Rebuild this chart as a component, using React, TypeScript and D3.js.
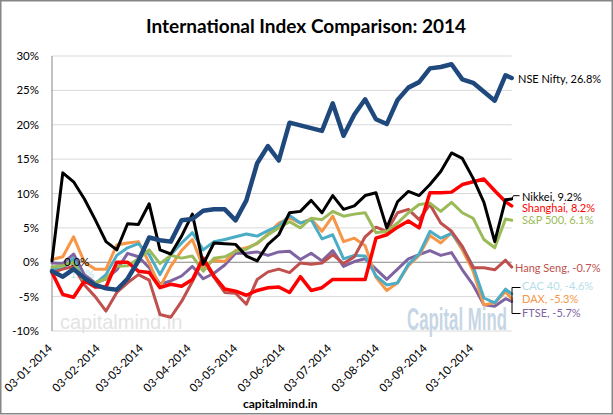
import * as d3 from "d3";
import { useLayoutEffect, useRef, useState } from "react";

// weekly closes, % change since 03-01-2014
const dates = [
  "2014-01-03", "2014-01-10", "2014-01-17", "2014-01-24", "2014-01-31",
  "2014-02-07", "2014-02-14", "2014-02-21", "2014-02-28", "2014-03-07",
  "2014-03-14", "2014-03-21", "2014-03-28", "2014-04-04", "2014-04-11",
  "2014-04-18", "2014-04-25", "2014-05-02", "2014-05-09", "2014-05-16",
  "2014-05-23", "2014-05-30", "2014-06-06", "2014-06-13", "2014-06-20",
  "2014-06-27", "2014-07-04", "2014-07-11", "2014-07-18", "2014-07-25",
  "2014-08-01", "2014-08-08", "2014-08-15", "2014-08-22", "2014-08-29",
  "2014-09-05", "2014-09-12", "2014-09-19", "2014-09-26", "2014-10-03",
  "2014-10-10", "2014-10-17", "2014-10-24", "2014-10-28",
];

const tickDates = [
  "2014-01-03", "2014-02-03", "2014-03-03", "2014-04-03", "2014-05-03",
  "2014-06-03", "2014-07-03", "2014-08-03", "2014-09-03", "2014-10-03",
];
const tickLabels = [
  "03-01-2014", "03-02-2014", "03-03-2014", "03-04-2014", "03-05-2014",
  "03-06-2014", "03-07-2014", "03-08-2014", "03-09-2014", "03-10-2014",
];
const yTicks = [30, 25, 20, 15, 10, 5, 0, -5, -10];

const nifty = [
  -1.3, -2.1, -1.0, -2.3, -3.3, -3.8, -4.0, -2.4, 0.2, 3.6,
  3.2, 3.0, 6.1, 6.3, 7.5, 7.7, 7.7, 6.1, 9.0, 14.4,
  16.9, 14.8, 20.3, 19.9, 19.5, 19.1, 23.1, 18.4, 21.5, 23.7,
  20.8, 20.1, 23.6, 25.4, 26.2, 28.2, 28.4, 28.8, 26.6, 26.1,
  24.8, 23.5, 27.2, 26.8,
];
const nikkei = [
  0.2, 13.0, 11.7, 9.2, 6.2, 3.0, 1.8, 5.6, 5.5, 8.5,
  1.8, 1.2, 3.8, 7.0, -0.3, 2.8, 2.7, 2.6, 0.9, 0.2,
  2.6, 4.0, 7.2, 7.4, 9.0, 7.2, 9.7, 7.7, 8.2, 9.7,
  10.1, 5.0, 8.8, 10.3, 9.7, 11.3, 13.2, 15.9, 15.1, 12.2,
  8.7, 3.0, 9.1, 9.2,
];
const shanghai = [
  -1.5, -4.7, -5.1, -2.7, -3.6, -3.6, 0.0, 0.0, -1.3, -1.5,
  -3.7, -3.2, -3.5, -2.5, 0.6, -2.0, -3.9, -4.2, -4.8, -4.1,
  -3.7, -3.6, -4.4, -2.1, -4.1, -3.7, -2.5, -2.5, -2.5, -2.5,
  3.5, 4.0, 5.1, 6.0, 5.0, 10.1, 10.1, 10.2, 11.3, 11.7,
  12.1, 10.4, 8.8, 8.2,
];
const sp500 = [
  -0.7, -0.5, 0.0, -2.9, -3.0, -2.4, -0.6, -0.5, 0.5, 1.8,
  -0.2, 1.0, 0.6, 0.9, -1.3, 0.6, 0.8, 1.6, 1.9, 2.8,
  4.0, 5.0, 5.9, 5.0, 6.4, 6.2, 7.4, 6.7, 7.0, 7.2,
  4.3, 4.5, 5.7, 7.2, 8.4, 8.6, 7.4, 8.7, 7.2, 6.4,
  3.3, 2.1, 6.3, 6.1,
];
const hangSeng = [
  -1.5, -1.0, -0.6, -3.3, -5.0, -7.1, -4.4, -3.0, -1.8, -2.6,
  -7.6, -8.0, -5.7, -2.8, 0.3, -2.2, -4.4, -4.5, -6.1, -2.5,
  -1.4, -1.0, -1.5, -0.1, -0.3, -0.1, 1.1, -0.2, 0.8, 3.7,
  5.1, 4.5, 7.2, 7.7, 6.2, 8.4, 5.7, 4.5, 2.3, -0.8,
  -0.8, -1.1, 0.3, -0.7,
];
const cac40 = [
  -1.0, -0.9, 0.6, -2.9, -3.1, -1.8, 1.0, 2.1, 2.7, 1.1,
  -1.8, 1.1, 2.8, 4.3, 1.8, 3.0, 3.3, 3.7, 4.1, 3.8,
  4.6, 5.3, 6.8, 5.7, 6.2, 3.4, 4.0, 0.5, 1.0, 0.9,
  -2.0, -3.3, -3.0, -0.3, 1.2, 4.5, 3.5, 4.2, 2.2, -0.6,
  -5.2, -5.9, -3.9, -4.6,
];
const dax = [
  0.4, 0.8, 3.7, 0.0, -1.0, -1.0, 2.5, 2.8, 3.0, -0.1,
  -3.6, -0.6, 1.7, 3.3, -0.7, 0.3, 0.1, 1.7, 2.1, 2.7,
  4.1, 5.7, 6.4, 5.7, 6.3, 4.5, 6.7, 3.0, 3.5, 2.4,
  -2.2, -4.1, -3.0, -0.5, 1.0, 3.9, 2.8, 4.3, 1.8, -1.3,
  -6.2, -5.9, -4.3, -5.3,
];
const ftse = [
  -0.1, -0.2, 1.2, -1.8, -3.0, -2.4, -1.1, 1.3, 0.8, -0.8,
  -3.2, -2.7, -2.0, -0.6, -2.4, -1.6, -0.4, 1.3, 1.3, 1.5,
  1.0, 1.5, 1.6, 0.4, 1.3, 0.2, 1.7, -0.6, 0.1, 0.5,
  -1.0, -2.5, -1.0, 0.5, 1.1, 1.7, 1.0, 1.4, -1.1, -3.3,
  -6.2, -6.4, -5.3, -5.7,
];

// drawn bottom to top
const series = [
  { name: "FTSE", values: ftse, color: "#8064A2", labelColor: "#8064A2", width: 3 },
  { name: "DAX", values: dax, color: "#F79646", labelColor: "#F79646", width: 3 },
  { name: "CAC 40", values: cac40, color: "#4BACC6", labelColor: "#B7DEE8", width: 3 },
  { name: "Hang Seng", values: hangSeng, color: "#C0504D", labelColor: "#C0504D", width: 3 },
  { name: "S&P 500", values: sp500, color: "#9BBB59", labelColor: "#9BBB59", width: 3 },
  { name: "Shanghai", values: shanghai, color: "#FF0000", labelColor: "#FF0000", width: 3.5 },
  { name: "Nikkei", values: nikkei, color: "#000000", labelColor: "#000000", width: 3 },
  { name: "NSE Nifty", values: nifty, color: "#1F497D", labelColor: "#000000", width: 4.5 },
];

// where Excel placed the end-of-line labels
const labelPos: Record<string, [number, number]> = {
  "NSE Nifty": [518, 83],
  Nikkei: [522, 200.5],
  Shanghai: [522, 212],
  "S&P 500": [522, 224],
  "Hang Seng": [515, 272],
  "CAC 40": [522, 290],
  DAX: [522, 303],
  FTSE: [522, 317],
};

const W = 613;
const H = 415;
const font = "Lato, 'Open Sans', sans-serif";

export default function App() {
  const markRef = useRef<SVGTextElement>(null);
  const [markScale, setMarkScale] = useState(0.5);

  // squeeze the "Capital Mind" mark to ~100px wide (condensed look)
  useLayoutEffect(() => {
    if (!markRef.current) return;
    const len = markRef.current.getComputedTextLength();
    if (len > 0) setMarkScale(100 / len);
  }, []);

  const parse = d3.timeParse("%Y-%m-%d");
  const xDates = dates.map((d) => parse(d) as Date);

  const x = d3
    .scaleTime()
    .domain([xDates[0], xDates[xDates.length - 1]])
    .range([52, 511.7]);
  const y = d3.scaleLinear().domain([-10, 30]).range([331, 56]);

  const line = d3
    .line<number>()
    .x((_d, i) => x(xDates[i]))
    .y((d) => y(d));

  // plain hyphen for negatives, as in the original labels
  const fmt = d3.formatLocale({ decimal: ".", thousands: ",", grouping: [3], currency: ["", ""], minus: "-" }).format(".1f");
  const nikkeiEnd = y(nikkei[nikkei.length - 1]);

  return (
    <div style={{ position: "absolute", left: 0, top: 0 }}>
      <svg width={W} height={H} style={{ display: "block", background: "#fff" }}>
        <rect x={0.75} y={0.75} width={W - 1.5} height={H - 2} fill="#fff" stroke="#868686" strokeWidth={1.5} />

        <text x={306} y={33} textAnchor="middle" fontFamily={font} fontWeight="bold" fontSize={19} fill="#000">
          International Index Comparison: 2014
        </text>

        {/* grid */}
        {yTicks.map((t) => (
          <line
            key={t}
            x1={52}
            x2={511.7}
            y1={y(t)}
            y2={y(t)}
            stroke={t === 0 ? "#868686" : "#D9D9D9"}
            strokeWidth={1}
          />
        ))}
        <line x1={52} x2={52} y1={y(30)} y2={y(-10)} stroke="#868686" />

        {yTicks.map((t) => (
          <text key={t} x={39} y={y(t) + 4} textAnchor="end" fontFamily={font} fontSize={11.5} fill="#000">
            {t}%
          </text>
        ))}

        {tickDates.map((d, i) => {
          const tx = x(parse(d) as Date) + 1;
          return (
            <text
              key={d}
              transform={`translate(${tx},${349}) rotate(-45)`}
              textAnchor="end"
              fontFamily={font}
              fontSize={11.5}
              fill="#000"
            >
              {tickLabels[i]}
            </text>
          );
        })}

        {/* watermarks */}
        <text x={60} y={329} fontFamily="'Liberation Sans', Arial, sans-serif" fontSize={20} fill="#E3E3E3">
          capitalmind.in
        </text>
        <text
          ref={markRef}
          transform={`translate(407,330) scale(${markScale},1)`}
          fontFamily="'Liberation Sans Narrow', 'Liberation Sans', sans-serif"
          fontWeight="bold"
          fontSize={32}
          fill="#C7D6E4"
        >
          Capital Mind
        </text>

        <text x={66} y={278} fontFamily={font} fontSize={11} fill="#B7DEE8">
          -1.1%
        </text>

        {series.map((s) => (
          <path
            key={s.name}
            d={line(s.values) ?? ""}
            fill="none"
            stroke={s.color}
            strokeWidth={s.width}
            strokeLinejoin="round"
            strokeLinecap="round"
          />
        ))}

        <text x={64} y={266} fontFamily={font} fontSize={11.5} fill="#000">
          0.0%
        </text>

        {/* leader and bracket */}
        <path d={`M511.7,${nikkeiEnd} L513.5,195.7 H519.5`} fill="none" stroke="#000" strokeWidth={1} />
        <path d="M520.5,287.5 H512 V313.5 H520.5" fill="none" stroke="#000" strokeWidth={1} />

        {series.map((s) => {
          const [lx, ly] = labelPos[s.name];
          const last = s.values[s.values.length - 1];
          return (
            <text key={s.name} x={lx} y={ly} fontFamily={font} fontSize={11} fill={s.labelColor}>
              {`${s.name}, ${fmt(last)}%`}
            </text>
          );
        })}

        <text x={243} y={408} fontFamily={font} fontWeight="bold" fontSize={12} fill="#000">
          capitalmind.in
        </text>
      </svg>
    </div>
  );
}
